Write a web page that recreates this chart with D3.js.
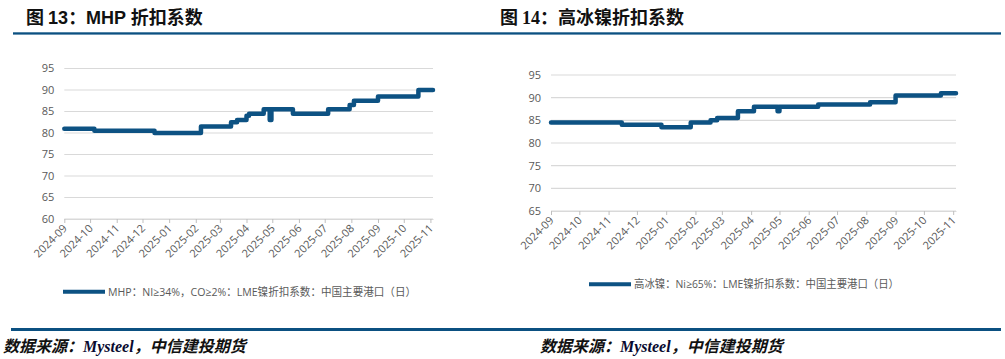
<!DOCTYPE html>
<html>
<head>
<meta charset="utf-8">
<script src="https://cdn.jsdelivr.net/npm/d3@7"></script>
<style>
  html, body { margin: 0; padding: 0; background: #fff; }
  svg { display: block; }
</style>
</head>
<body>
<svg id="chart" width="1005" height="359"></svg>
<script>
// ---------- data ----------
const monthTicks = ["2024-09","2024-10","2024-11","2024-12","2025-01","2025-02","2025-03","2025-04","2025-05","2025-06","2025-07","2025-08","2025-09","2025-10","2025-11"];

const mhpDates  = ["2024-09-01","2024-10-06","2024-12-15","2025-02-07","2025-03-14","2025-03-21","2025-04-01","2025-04-04","2025-04-21","2025-04-28","2025-04-30","2025-05-25","2025-07-05","2025-07-30","2025-08-04","2025-09-01","2025-10-18","2025-11-04"];
const mhpValues = [81, 80.5, 80, 81.5, 82.5, 83, 84, 84.5, 85.5, 83, 85.5, 84.5, 85.5, 86.5, 87.5, 88.5, 90, 90];

const hiDates   = ["2024-09-01","2024-11-15","2024-12-27","2025-01-27","2025-02-17","2025-02-24","2025-03-18","2025-04-04","2025-04-29","2025-05-01","2025-06-11","2025-08-05","2025-09-01","2025-10-19","2025-11-04"];
const hiValues  = [84.5, 84, 83.5, 84.5, 85, 85.5, 87, 88, 87, 88, 88.5, 89, 90.5, 91, 91];

const mhpYTicks = [60, 65, 70, 75, 80, 85, 90, 95];
const hiYTicks  = [65, 70, 75, 80, 85, 90, 95];

const mhpTitle = ["图 ", "13", "：MHP 折扣系数"];
const hiTitle  = ["图 ", "14", "：高冰镍折扣系数"];
const mhpLegend = "MHP：NI≥34%，CO≥2%：LME镍折扣系数：中国主要港口（日）";
const hiLegend  = "高冰镍：Ni≥65%：LME镍折扣系数：中国主要港口（日）";
const sourceText = ["数据来源：", "Mysteel", "，中信建投期货"];

// ---------- styles ----------
const BLUE = "#0d5283";
const RULE = "#0b5081";
const GRID = "#d9d9d9";
const TXT  = "#595959";
const parse = d3.timeParse("%Y-%m-%d");
const parseM = d3.timeParse("%Y-%m");
const fmtM = d3.timeFormat("%Y-%m");

const svg = d3.select("#chart");

function panel(cfg) {
  const g = svg.append("g");
  // title
  const t = g.append("text")
    .attr("x", cfg.titleX).attr("y", 24)
    .attr("font-size", 18).attr("font-weight", "bold")
    .attr("fill", "#111")
    .attr("font-family", "'Liberation Sans', 'Noto Sans CJK SC', sans-serif");
  t.append("tspan").text(cfg.title[0]).attr("font-family", "'Noto Sans CJK SC', sans-serif");
  t.append("tspan").text(cfg.title[1]).attr("font-family", cfg.numFont);
  t.append("tspan").text(cfg.title[2]).attr("font-family", "'Liberation Sans','Noto Sans CJK SC', sans-serif");

  // top rule
  g.append("rect").attr("x", cfg.ruleX0).attr("y", 32.3).attr("width", cfg.ruleX1 - cfg.ruleX0).attr("height", 2.3).attr("fill", RULE);
  // bottom rule
  g.append("rect").attr("x", cfg.ruleX0b).attr("y", 328).attr("width", cfg.ruleX1 - cfg.ruleX0b).attr("height", 3).attr("fill", RULE);

  const x = d3.scaleTime()
    .domain([parse("2024-09-01"), parse("2025-11-04")])
    .range([cfg.x0, cfg.x1]);
  const y = d3.scaleLinear().domain(cfg.yDomain).range([cfg.yBottom, cfg.yTop]);

  // gridlines
  g.append("g").selectAll("line").data(cfg.yTicks).join("line")
    .attr("x1", cfg.x0).attr("x2", cfg.x1)
    .attr("y1", d => y(d)).attr("y2", d => y(d))
    .attr("stroke", GRID).attr("stroke-width", 1.2);

  // y labels
  g.append("g").selectAll("text").data(cfg.yTicks).join("text")
    .attr("x", cfg.x0 - 10).attr("y", d => y(d)).attr("dy", "0.35em")
    .attr("text-anchor", "end").attr("font-size", 11)
    .attr("font-family", "'Open Sans', sans-serif").attr("fill", TXT)
    .text(d => d);

  // x axis
  const tickDates = monthTicks.map(parseM);
  const xAxis = d3.axisBottom(x).tickValues(tickDates).tickFormat(fmtM).tickSize(4).tickSizeOuter(0);
  const ax = g.append("g").attr("transform", `translate(0,${cfg.yBottom})`).call(xAxis);
  ax.select(".domain").attr("stroke", GRID).attr("stroke-width", 1.2);
  ax.selectAll(".tick line").attr("stroke", "#bfbfbf");
  ax.selectAll(".tick text")
    .attr("font-size", 11).attr("font-family", "'Open Sans', sans-serif").attr("fill", TXT)
    .attr("text-anchor", "end")
    .attr("x", 0).attr("y", 0).attr("dy", 0)
    .attr("transform", "translate(3,10) rotate(-45)");

  // line
  const pts = cfg.dates.map((d, i) => [parse(d), cfg.values[i]]);
  const line = d3.line().x(d => x(d[0])).y(d => y(d[1])).curve(d3.curveStepAfter);
  g.append("path").datum(pts).attr("d", line)
    .attr("fill", "none").attr("stroke", BLUE).attr("stroke-width", 4.5)
    .attr("stroke-linejoin", "round").attr("stroke-linecap", "round");

  // legend
  g.append("line").attr("x1", cfg.legX).attr("x2", cfg.legX + 42)
    .attr("y1", cfg.legY).attr("y2", cfg.legY)
    .attr("stroke", BLUE).attr("stroke-width", 4);
  g.append("text").attr("x", cfg.legX + 45).attr("y", cfg.legY).attr("dy", "0.36em")
    .attr("font-size", 11).attr("fill", TXT)
    .attr("font-family", "'Open Sans','Noto Sans CJK SC', sans-serif")
    .attr("textLength", cfg.legW).attr("lengthAdjust", "spacingAndGlyphs")
    .text(cfg.legend);

  // source
  const s = g.append("text").attr("x", cfg.srcX).attr("y", 352)
    .attr("font-size", 16).attr("font-style", "italic").attr("font-weight", "bold")
    .attr("fill", "#111");
  s.append("tspan").text(sourceText[0]).attr("font-family", "'Noto Sans CJK SC', sans-serif");
  s.append("tspan").text(sourceText[1]).attr("font-family", "'Liberation Serif', serif").attr("fill", "#0a0a30");
  s.append("tspan").text(sourceText[2]).attr("font-family", "'Noto Sans CJK SC', sans-serif");
}

panel({
  title: mhpTitle, titleX: 26, numFont: "'Liberation Sans', sans-serif",
  ruleX0: 13, ruleX0b: 11, ruleX1: 500,
  x0: 64.3, x1: 433, yTop: 68.5, yBottom: 219, yDomain: [60, 95], yTicks: mhpYTicks,
  dates: mhpDates, values: mhpValues,
  legX: 63, legY: 291.7, legW: 308, legend: mhpLegend,
  srcX: 3
});

panel({
  title: hiTitle, titleX: 500, numFont: "'Liberation Serif', serif",
  ruleX0: 500, ruleX0b: 500, ruleX1: 1001,
  x0: 551, x1: 956, yTop: 75, yBottom: 211, yDomain: [65, 95], yTicks: hiYTicks,
  dates: hiDates, values: hiValues,
  legX: 589, legY: 284.3, legW: 265, legend: hiLegend,
  srcX: 540
});
</script>
</body>
</html>
